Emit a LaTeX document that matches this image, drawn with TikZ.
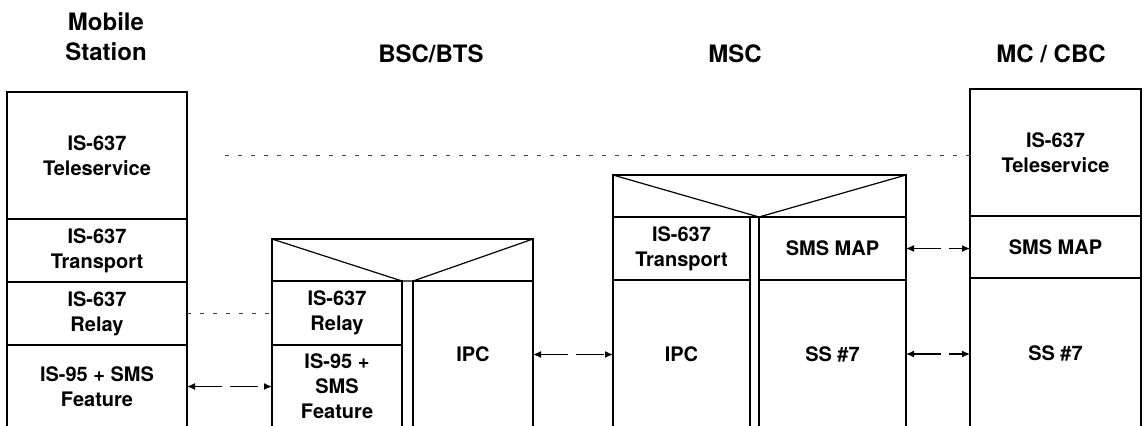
\documentclass[tikz,border=0pt]{standalone}
\usepackage{fontspec}
\setmainfont{TeX Gyre Heros}
\usepackage{tikz}
\usetikzlibrary{arrows.meta}

\tikzset{
    layer/.style={draw, line width=0.6pt, inner sep=0pt, outer sep=0pt, anchor=north west, align=center, font=\fontsize{10}{12.5}\selectfont\bfseries},
    entity/.style={align=center, font=\fontsize{12}{15}\selectfont\bfseries},
    peer/.style={line width=0.6pt, black!75, dash pattern=on 2pt off 4.5pt},
    link/.style={line width=0.6pt, {Latex[length=4pt,width=3.5pt]}-{Latex[length=4pt,width=3.5pt]}, dash pattern=on 14pt off 4pt},
    edge/.style={line width=0.6pt},
}

\begin{document}
\begin{tikzpicture}[x=0.5pt, y=-0.5pt]
    % Frame (pixel grid 1145 x 425, y downwards)
    \useasboundingbox (0,0) rectangle (1145,425);
    \clip (0,0) rectangle (1145,425);

    % Entity titles
    \node[entity] (msTitle) at (106,37) {Mobile\\Station};
    \node[entity] (bscTitle) at (431,54) {BSC/BTS};
    \node[entity] (mscTitle) at (735,54) {MSC};
    \node[entity] (mcTitle) at (1051,54) {MC / CBC};

    % Mobile Station stack
    \node[layer, minimum width=90pt, minimum height=63.5pt] (msTele) at (7,92) {IS-637\\Teleservice};
    \node[layer, minimum width=90pt, minimum height=31.5pt] (msTrans) at (7,219) {IS-637\\Transport};
    \node[layer, minimum width=90pt, minimum height=31.5pt] (msRelay) at (7,282) {IS-637\\Relay};
    \node[layer, minimum width=90pt, minimum height=41.5pt] (msAir) at (7,345) {IS-95 + SMS\\Feature};

    % BSC/BTS stack with its open top
    \node[layer, minimum width=65pt, minimum height=32pt] (bscRelay) at (272,281) {IS-637\\Relay};
    \node[layer, minimum width=65pt, minimum height=41.5pt] (bscAir) at (272,345) {IS-95 +\\SMS\\Feature};
    \node[layer, minimum width=60pt, minimum height=73.5pt] (bscIPC) at (413,281) {IPC};
    \coordinate (bscNW) at (272,239);
    \coordinate (bscNE) at (533,239);
    \draw[edge] (bscRelay.north west) -- (bscNW) -- (bscNE) -- (bscIPC.north east);
    \draw[edge] (bscNW) -- (bscRelay.north east) -- (bscIPC.north west) -- (bscNE);

    % MSC stack
    \node[layer, minimum width=68.5pt, minimum height=31.5pt] (mscTrans) at (613,217) {IS-637\\Transport};
    \node[layer, minimum width=68.5pt, minimum height=74pt] (mscIPC) at (613,280) {IPC};
    \node[layer, minimum width=73.5pt, minimum height=31.5pt] (mscMap) at (759,217) {SMS MAP};
    \node[layer, minimum width=73.5pt, minimum height=74pt] (mscSS) at (759,280) {SS \#7};
    \coordinate (mscNW) at (613,175);
    \coordinate (mscNE) at (906,175);
    \draw[edge] (mscTrans.north west) -- (mscNW) -- (mscNE) -- (mscMap.north east);
    \draw[edge] (mscNW) -- (mscMap.north west) -- (mscNE);
    \draw[edge] (mscTrans.north east) -- (mscMap.north west);

    % MC / CBC stack
    \node[layer, minimum width=85.5pt, minimum height=63.5pt] (mcTele) at (970,89) {IS-637\\Teleservice};
    \node[layer, minimum width=85.5pt, minimum height=31pt] (mcMap) at (970,216) {SMS MAP};
    \node[layer, minimum width=85.5pt, minimum height=75pt] (mcSS) at (970,278) {SS \#7};

    % Peer-to-peer (logical) paths
    \draw[peer, shorten <=19pt] (msTele.east) -- (msTele.east -| mcTele.west);
    \draw[peer] (msRelay.east) -- (msRelay.east -| bscRelay.west);

    % Physical links
    \draw[link] (msAir.east) -- (msAir.east -| bscAir.west);
    \draw[link] (bscIPC.east) -- (bscIPC.east -| mscIPC.west);
    \draw[link] (mscMap.east) -- (mscMap.east -| mcMap.west);
    \draw[link] (mscSS.east) -- (mscSS.east -| mcSS.west);
\end{tikzpicture}
\end{document}
